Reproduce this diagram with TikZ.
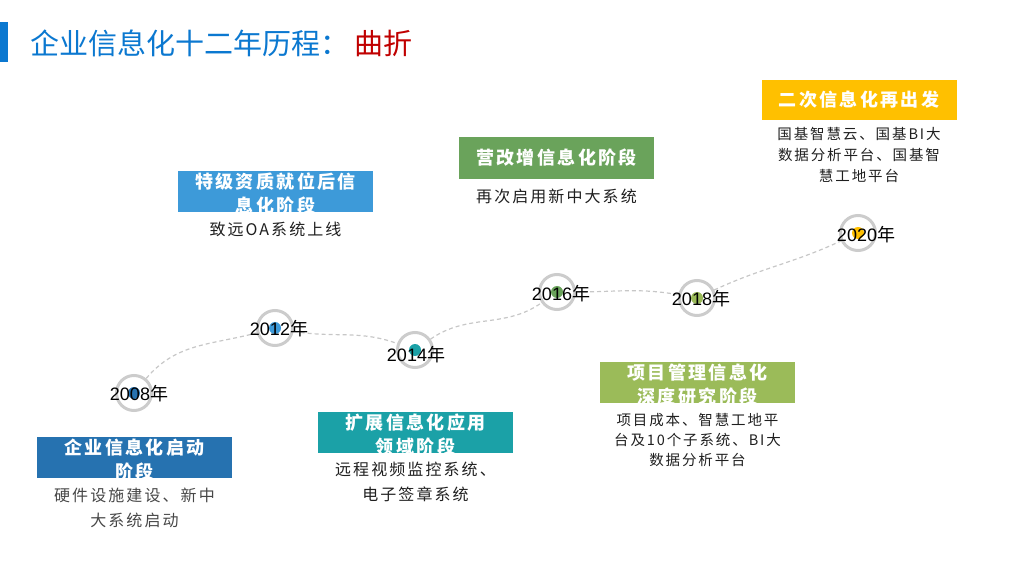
\documentclass[tikz,border=0pt]{standalone}
\usepackage{fontspec}
\setmainfont{Noto Sans CJK SC}
\newfontfamily\headfont{Noto Sans CJK SC}[LetterSpace=13]
\newfontfamily\descfont{Noto Sans CJK SC}[LetterSpace=13]
\newfontfamily\numfont{Liberation Sans}
\usetikzlibrary{positioning, calc}

\definecolor{titleblue}{HTML}{0B78D0}
\definecolor{titlered}{HTML}{C00000}
\definecolor{stageA}{HTML}{2672B0}
\definecolor{stageB}{HTML}{3D9AD9}
\definecolor{stageC}{HTML}{1BA1A7}
\definecolor{stageD}{HTML}{6AA35B}
\definecolor{stageE}{HTML}{9BBB59}
\definecolor{stageF}{HTML}{FFC000}

\begin{document}
\begin{tikzpicture}[x=1pt, y=1pt,
  ring/.style={circle, draw=black!20, line width=3pt, minimum size=35pt, inner sep=0pt},
  dot/.style={circle, fill=#1, minimum size=12pt, inner sep=0pt},
  year/.style={font=\fontsize{18}{20}\selectfont, text=black, inner sep=0pt},
  stage/.style={fill=#1, minimum width=195pt, minimum height=41pt, inner sep=0pt},
  head/.style={font=\headfont\bfseries\fontsize{18}{24}\selectfont, text=white, align=center, inner sep=0pt},
  desc/.style={font=\descfont\fontsize{16}{25}\selectfont, text=black!88, align=center, inner sep=0pt},
  small/.style={font=\descfont\fontsize{14.5}{20}\selectfont, text=black!88, align=center, inner sep=0pt},
  track/.style={draw=black!22, dashed, dash pattern=on 4pt off 3pt, line width=1.2pt}
]
\useasboundingbox (0,0) rectangle (1024,576);

\fill[titleblue] (0,514) rectangle (8,554);
\node[anchor=west, inner sep=0pt, font=\fontsize{29}{31}\selectfont] (title) at (30,533)
  {\textcolor{titleblue}{企业信息化十二年历程：}\hspace{5pt}\textcolor{titlered}{曲折}};

\node[ring] (r08) at (134,183) {};
\node[ring] (r12) at (275,248) {};
\node[ring] (r14) at (415,226) {};
\node[ring] (r16) at (557,284) {};
\node[ring] (r18) at (697,278) {};
\node[ring] (r20) at (858,343) {};

\draw[track] (r08) to[out=50,in=195] (r12) to[out=-10,in=160] (r14)
  to[out=35,in=215] (r16) to[out=0,in=170] (r18) to[out=25,in=205] (r20);

\node[dot=stageA] (p08) at (r08) {};
\node[dot=stageB] (p12) at (r12) {};
\node[dot=stageC] (p14) at (r14) {};
\node[dot=stageD] (p16) at (r16) {};
\node[dot=stageE] (p18) at (r18) {};
\node[dot=stageF] (p20) at (r20) {};

\node[year] (l08) at ($(r08)+(5,-1)$) {{\numfont 2008}年};
\node[year] (l12) at ($(r12)+(4,-1)$) {{\numfont 2012}年};
\node[year] (l14) at ($(r14)+(1,-5)$) {{\numfont 2014}年};
\node[year] (l16) at ($(r16)+(4,-2)$) {{\numfont 2016}年};
\node[year] (l18) at ($(r18)+(4,-1)$) {{\numfont 2018}年};
\node[year] (l20) at ($(r20)+(8,-2)$) {{\numfont 2020}年};

\node[stage=stageA] (b08) at (134.5,119) {};
\node[stage=stageB] (b12) at (275.5,384.5) {};
\node[stage=stageC] (b14) at (415.5,143.5) {};
\node[stage=stageD, minimum height=42pt] (b16) at (556.5,418) {};
\node[stage=stageE] (b18) at (697.5,193.5) {};
\node[stage=stageF, minimum height=40pt] (b20) at (859,476) {};

\node[head, anchor=north] (h08) at ($(b08.north)+(0,-2)$) {企业信息化启动\\阶段};
\node[head, anchor=north] (h12) at ($(b12.north)+(0,-2)$) {特级资质就位后信\\息化阶段};
\node[head, anchor=north] (h14) at ($(b14.north)+(0,-2)$) {扩展信息化应用\\领域阶段};
\node[head] (h16) at (b16) {营改增信息化阶段};
\node[head, anchor=north] (h18) at ($(b18.north)+(0,-2)$) {项目管理信息化\\深度研究阶段};
\node[head] (h20) at (b20) {二次信息化再出发};

\node[desc, below=10pt of b08, text=black!72] (d08) {硬件设施建设、新中\\大系统启动};
\node[desc, below=10pt of b12] (d12) {致远OA系统上线};
\node[desc, below=9pt of b14] (d14) {远程视频监控系统、\\电子签章系统};
\node[desc, below=10pt of b16] (d16) {再次启用新中大系统};
\node[small, below=10pt of b18] (d18) {项目成本、智慧工地平\\台及10个子系统、BI大\\数据分析平台};
\node[small, below=7pt of b20, font=\descfont\fontsize{14.5}{21}\selectfont] (d20) {国基智慧云、国基BI大\\数据分析平台、国基智\\慧工地平台};

\end{tikzpicture}
\end{document}
